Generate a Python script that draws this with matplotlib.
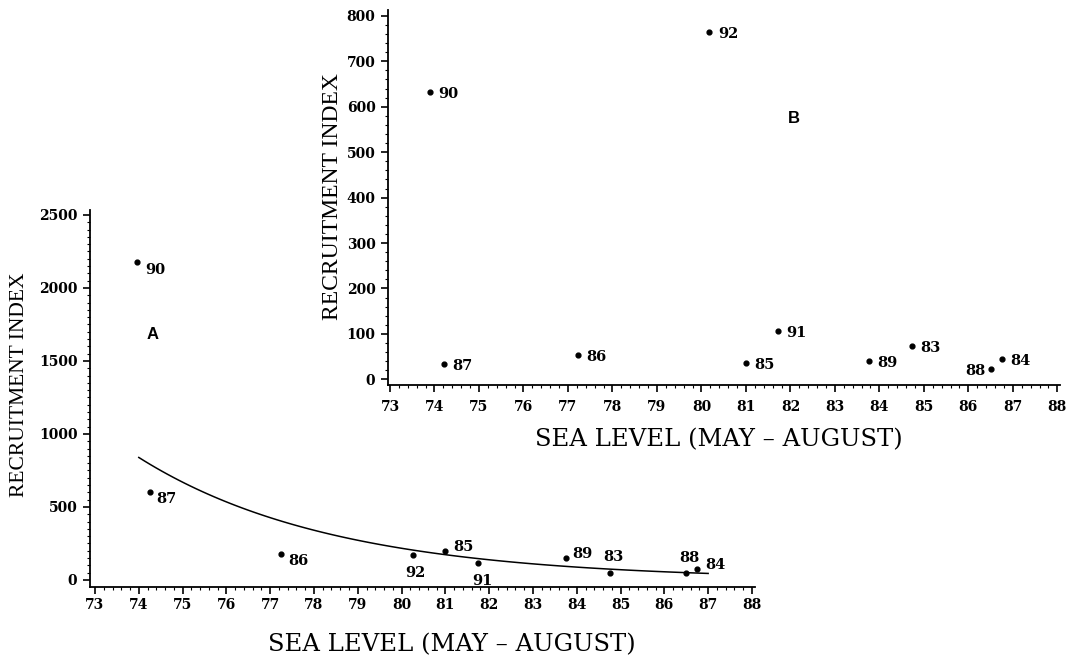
import numpy as np
import matplotlib
matplotlib.use('Agg')
import matplotlib.pyplot as plt
from matplotlib.ticker import MultipleLocator

# panel A: recruitment index vs sea level, labelled by year
years_a = ['90', '87', '86', '92', '85', '91', '89', '83', '88', '84']
sea_a = [73.95, 74.25, 77.25, 80.25, 81.0, 81.75, 83.75, 84.75, 86.5, 86.75]
recr_a = [2180, 605, 180, 170, 200, 115, 150, 50, 45, 75]

# panel B
years_b = ['90', '87', '86', '92', '91', '85', '89', '83', '88', '84']
sea_b = [73.9, 74.22, 77.23, 80.18, 81.73, 81.0, 83.76, 84.74, 86.5, 86.76]
recr_b = [632, 33, 54, 764, 106, 36, 40, 73, 22, 44]

# fitted curve range (panel A)
fit_x0, fit_x1 = 74.0, 87.0

serif = 'DejaVu Serif'

# label offsets in points (dx, dy, ha)
offs_a = {'90': (6, -6, 'left'), '87': (5, -5, 'left'), '86': (5, -5, 'left'),
          '92': (2, -13, 'center'), '85': (6, 3, 'left'), '91': (3, -13, 'center'),
          '89': (5, 3, 'left'), '83': (3, 11, 'center'), '88': (2, 11, 'center'),
          '84': (6, 3, 'left')}
offs_b = {y: (6, -1.5, 'left') for y in years_b}
offs_b['88'] = (-4, -1.5, 'right')


def style_axes(ax, xlim, ylim, ymaj, ymin, xpad):
    ax.set_facecolor('none')
    ax.set_xlim(*xlim)
    ax.spines['top'].set_visible(False)
    ax.spines['right'].set_visible(False)
    for s in ('left', 'bottom'):
        ax.spines[s].set_linewidth(1.3)
    ax.set_xticks(range(73, 89))
    ax.xaxis.set_minor_locator(MultipleLocator(0.2))
    ax.yaxis.set_major_locator(MultipleLocator(ymaj))
    ax.yaxis.set_minor_locator(MultipleLocator(ymin))
    ax.set_ylim(*ylim)
    ax.tick_params(which='major', direction='out', length=5, width=1.2)
    ax.tick_params(which='minor', direction='out', length=2.5, width=0.8)
    ax.tick_params(axis='x', pad=xpad)
    ax.tick_params(axis='y', pad=4)
    for lab in ax.get_xticklabels() + ax.get_yticklabels():
        lab.set_fontfamily(serif)
        lab.set_fontweight('bold')
        lab.set_fontsize(10)


def plot_points(ax, xs, ys, names, offs):
    ax.scatter(xs, ys, s=12, color='black', zorder=3)
    for x, y, n in zip(xs, ys, names):
        dx, dy, ha = offs[n]
        ax.annotate(n, (x, y), xytext=(dx, dy), textcoords='offset points',
                    ha=ha, va='center', fontsize=10.5, fontfamily=serif,
                    fontweight='bold')


fig = plt.figure(figsize=(10.74, 6.6), dpi=100)

# panel A
ax_a = fig.add_axes([90 / 1074, 73 / 660, 665 / 1074, 377 / 660])
style_axes(ax_a, (72.886, 88.07), (-48, 2534), 500, 50, 3)
plot_points(ax_a, sea_a, recr_a, years_a, offs_a)
k, b = np.polyfit(sea_a, np.log(recr_a), 1)
xf = np.linspace(fit_x0, fit_x1, 100)
ax_a.plot(xf, np.exp(b + k * xf), color='black', lw=1.1)
ax_a.text(74.32, 1678, 'A', fontsize=12, fontweight='bold',
          fontfamily='Liberation Sans', ha='center', va='center')
fig.text(20 / 1074, 1 - 385 / 660, 'RECRUITMENT INDEX', rotation=90,
         ha='center', va='center', fontsize=15.5, fontfamily='Liberation Serif')
fig.text(452 / 1074, 1 - 645 / 660, 'SEA LEVEL (MAY – AUGUST)',
         ha='center', va='center', fontsize=17.5, fontfamily=serif)

# panel B
ax_b = fig.add_axes([388 / 1074, 275 / 660, 672 / 1074, 375 / 660])
style_axes(ax_b, (72.955, 88.06), (-12.6, 813), 100, 20, 6)
plot_points(ax_b, sea_b, recr_b, years_b, offs_b)
ax_b.text(82.08, 575, 'B', fontsize=12, fontweight='bold',
          fontfamily='Liberation Sans', ha='center', va='center')
fig.text(333 / 1074, 1 - 197 / 660, 'RECRUITMENT INDEX', rotation=90,
         ha='center', va='center', fontsize=17, fontfamily='Liberation Serif')
fig.text(719 / 1074, 1 - 440 / 660, 'SEA LEVEL (MAY – AUGUST)',
         ha='center', va='center', fontsize=17.5, fontfamily=serif)

fig.savefig('out.png', dpi=100)
